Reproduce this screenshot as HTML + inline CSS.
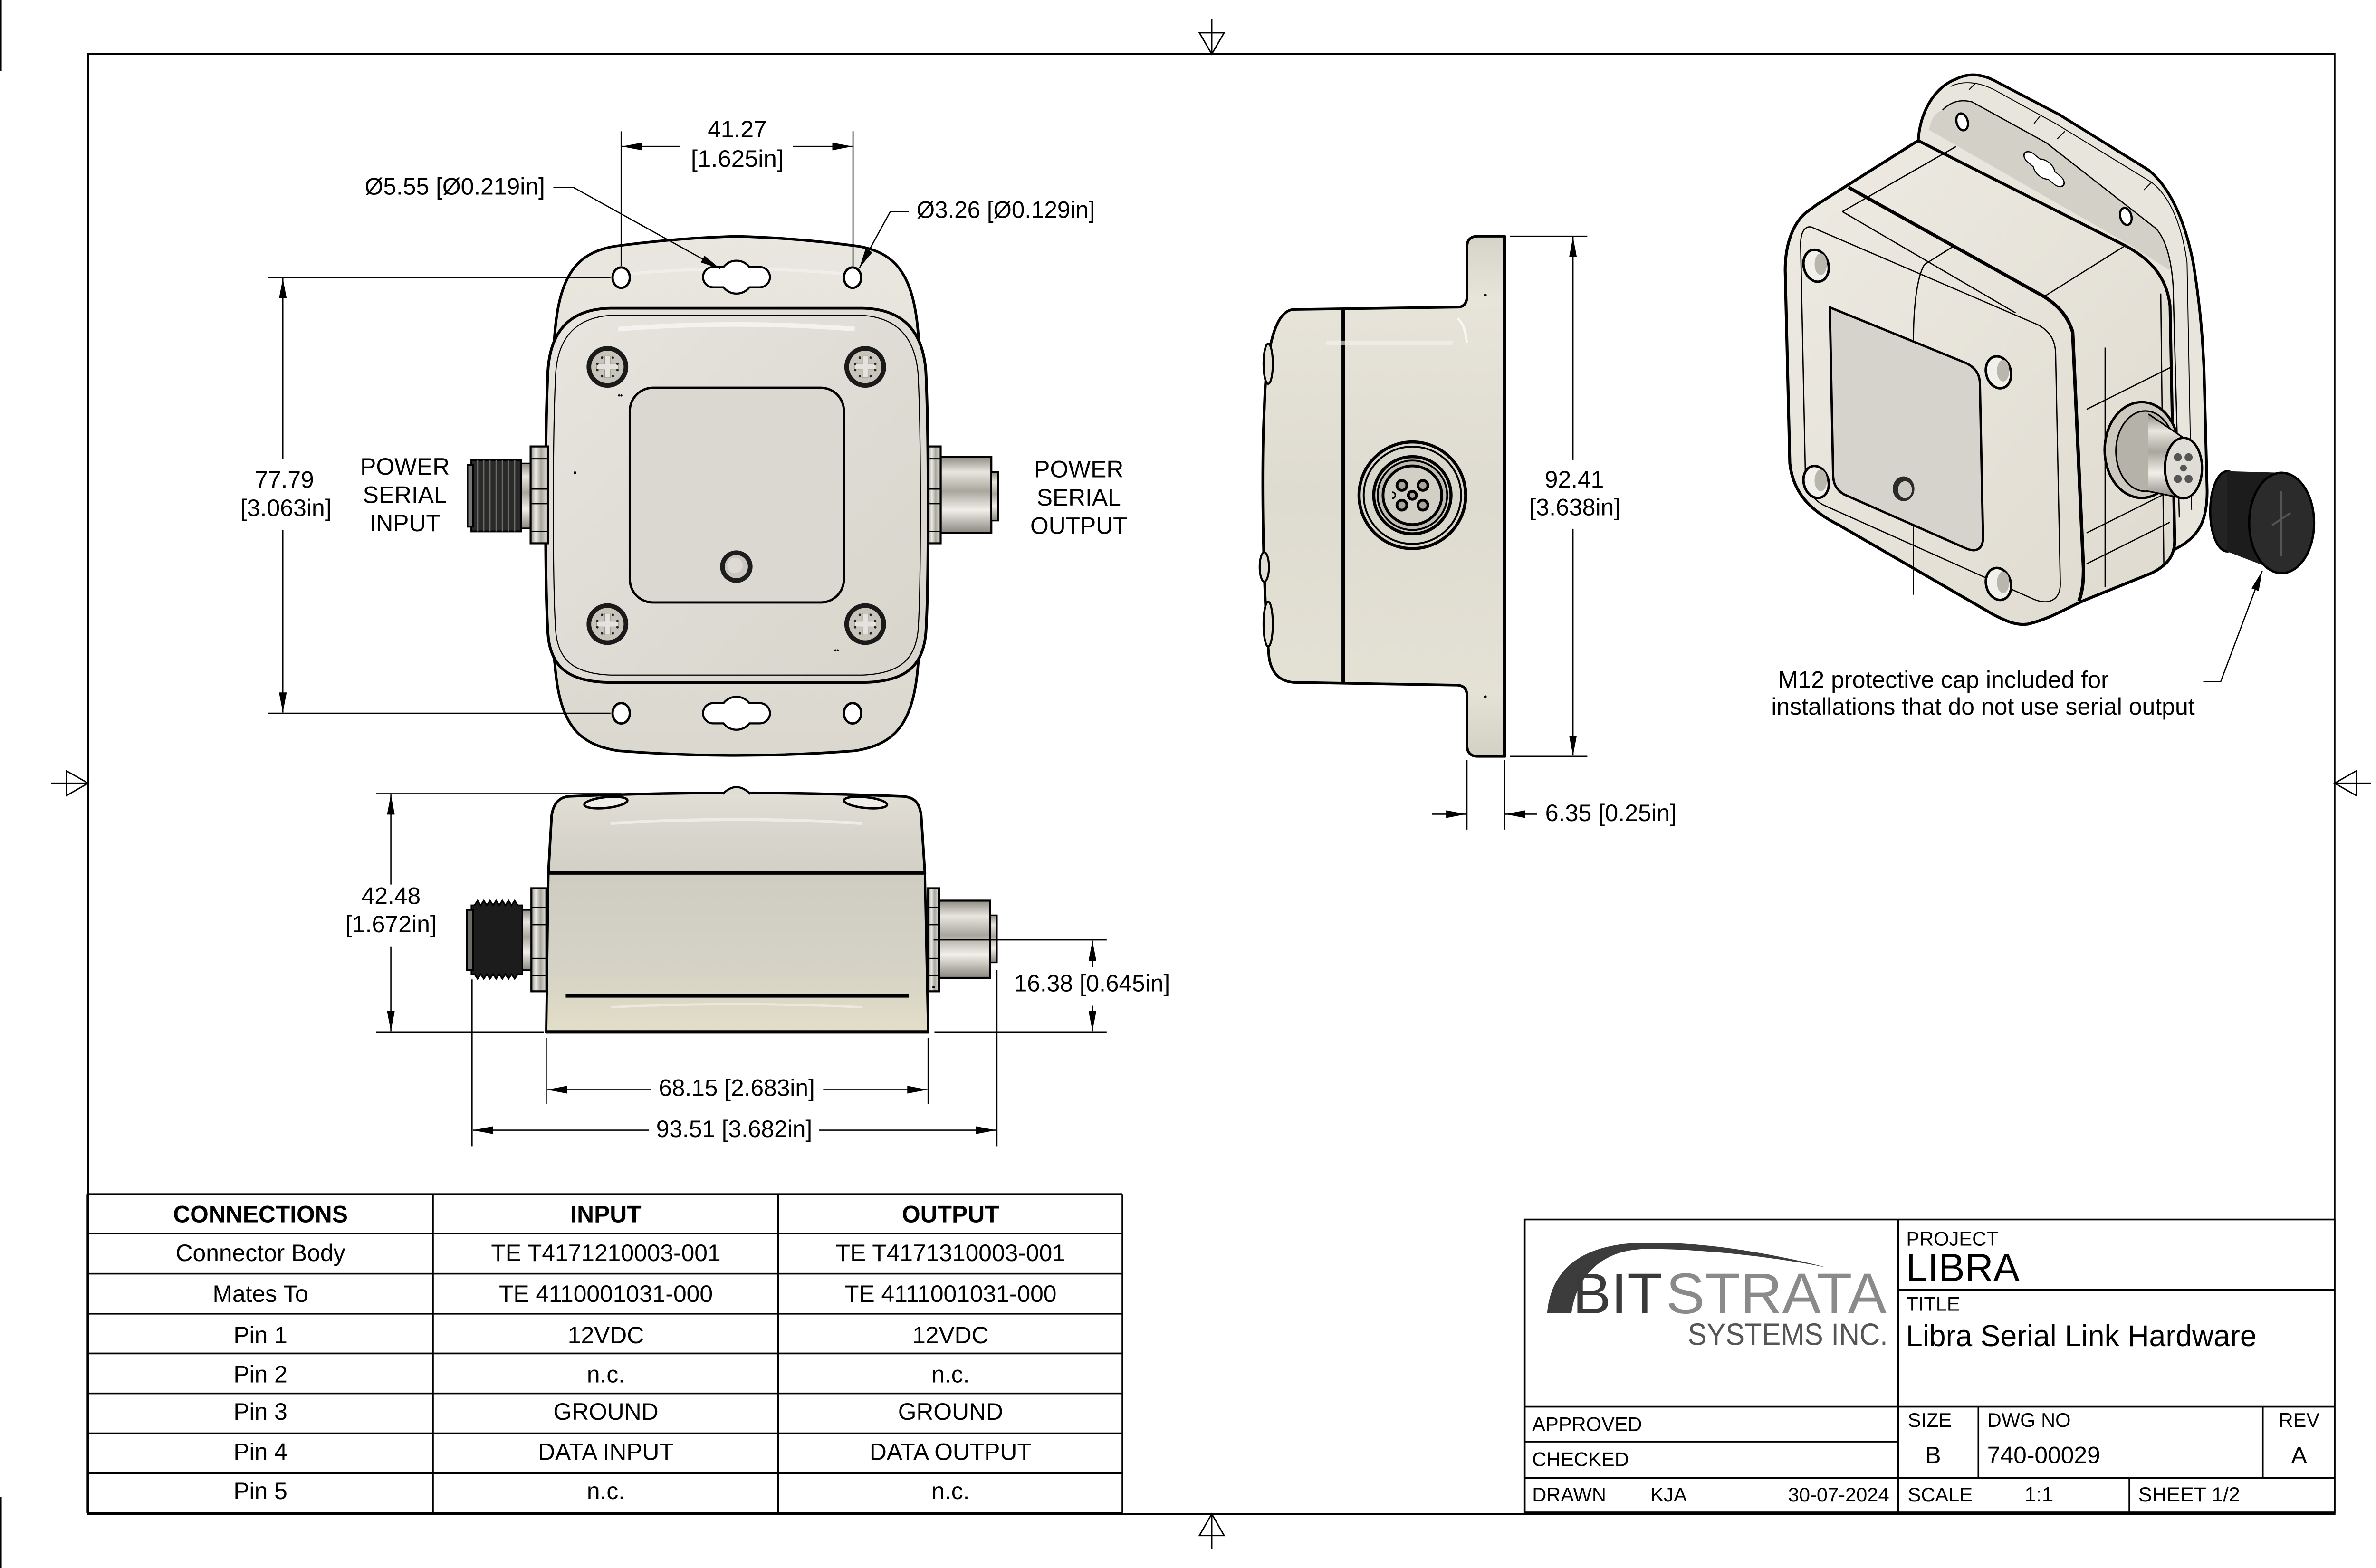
<!DOCTYPE html>
<html><head><meta charset="utf-8"><style>html,body{margin:0;padding:0;background:#fff}svg{display:block}</style></head>
<body>
<svg xmlns="http://www.w3.org/2000/svg" width="5100" height="3300" viewBox="0 0 1568 1015" preserveAspectRatio="none" font-family="'Liberation Sans', Arial, sans-serif">
<defs>
<linearGradient id="gFl" x1="0" y1="0" x2="0" y2="1"><stop offset="0" stop-color="#e9e7df"/><stop offset="0.5" stop-color="#e2dfd6"/><stop offset="1" stop-color="#dbd8cf"/></linearGradient>
<linearGradient id="gLid" x1="0" y1="0" x2="1" y2="1"><stop offset="0" stop-color="#e7e5dd"/><stop offset="0.5" stop-color="#dedcd4"/><stop offset="1" stop-color="#d8d5cc"/></linearGradient>
<linearGradient id="gMetV" x1="0" y1="0" x2="0" y2="1"><stop offset="0" stop-color="#8f8c84"/><stop offset="0.2" stop-color="#e8e6df"/><stop offset="0.45" stop-color="#a9a69d"/><stop offset="0.7" stop-color="#f1efe9"/><stop offset="1" stop-color="#8a877f"/></linearGradient>
<linearGradient id="gMetH" x1="0" y1="0" x2="1" y2="0"><stop offset="0" stop-color="#8f8c84"/><stop offset="0.3" stop-color="#ecebe5"/><stop offset="0.6" stop-color="#a8a59c"/><stop offset="1" stop-color="#e6e4dd"/></linearGradient>
<linearGradient id="gSide" x1="0" y1="0" x2="0" y2="1"><stop offset="0" stop-color="#d6d3c8"/><stop offset="0.12" stop-color="#e7e4da"/><stop offset="0.5" stop-color="#dedbd0"/><stop offset="0.88" stop-color="#e4e1d5"/><stop offset="1" stop-color="#d3d0c4"/></linearGradient>
<linearGradient id="gBotLid" x1="0" y1="0" x2="0" y2="1"><stop offset="0" stop-color="#e2dfd6"/><stop offset="0.4" stop-color="#dad7ce"/><stop offset="1" stop-color="#d3d0c6"/></linearGradient>
<linearGradient id="gBotBase" x1="0" y1="0" x2="0" y2="1"><stop offset="0" stop-color="#cfccc2"/><stop offset="0.6" stop-color="#d5d2c6"/><stop offset="1" stop-color="#e3dec7"/></linearGradient>
<linearGradient id="gIso" x1="0" y1="0" x2="1" y2="1"><stop offset="0" stop-color="#eeebe3"/><stop offset="1" stop-color="#dedacf"/></linearGradient>
<marker id="ah" viewBox="0 0 13 5" refX="13" refY="2.5" markerWidth="13" markerHeight="5" markerUnits="userSpaceOnUse" orient="auto"><path d="M0,0 L13,2.5 L0,5 Z" fill="#000"/></marker>
<g id="scr"><circle r="13.5" fill="#1a1a1a"/><circle r="10.5" fill="#c7c4bc"/><path d="M-1.8,-7 h3.6 v5.2 h5.2 v3.6 h-5.2 v5.2 h-3.6 v-5.2 h-5.2 v-3.6 h5.2 z" fill="#e4e2dc" stroke="#9a978f" stroke-width="0.4"/><g fill="#222"><circle cx="-3.5" cy="-6" r="0.8"/><circle cx="3.5" cy="-6" r="0.8"/><circle cx="-3.5" cy="6" r="0.8"/><circle cx="3.5" cy="6" r="0.8"/><circle cx="-6.5" cy="-2" r="0.8"/><circle cx="6.5" cy="-2" r="0.8"/><circle cx="-6.5" cy="2" r="0.8"/><circle cx="6.5" cy="2" r="0.8"/></g></g>
<g id="kh"><rect x="-21" y="-5.9" width="42" height="11.8" rx="5.9" fill="none" stroke="#000" stroke-width="2.6"/><circle r="10" fill="none" stroke="#000" stroke-width="2.6"/><rect x="-21" y="-5.9" width="42" height="11.8" rx="5.9" fill="#fff"/><circle r="10" fill="#fff"/></g>
</defs>

<!-- sheet edges & frame -->
<g stroke="#000" fill="none">
<line x1="0.6" y1="0" x2="0.6" y2="46" stroke-width="1"/>
<line x1="0.6" y1="969" x2="0.6" y2="1015" stroke-width="1"/>
<line x1="1566.5" y1="0" x2="1566.5" y2="46" stroke-width="1"/>
<line x1="1566.5" y1="969" x2="1566.5" y2="1015" stroke-width="1"/>
<rect x="57" y="35" width="1453.5" height="945" stroke-width="1.1"/>
<g stroke-width="0.9">
<line x1="784" y1="12" x2="784" y2="35"/><path d="M776 21.2 L792 21.2 L784 35 Z"/>
<line x1="784" y1="980" x2="784" y2="1003"/><path d="M776 994 L792 994 L784 980 Z"/>
<line x1="33" y1="507" x2="57" y2="507"/><path d="M43 499 L43 515 L57 507 Z"/>
<line x1="1510.5" y1="507" x2="1534" y2="507"/><path d="M1524.5 499 L1524.5 515 L1510.5 507 Z"/>
</g>
</g>

<!-- ================= TOP VIEW ================= -->
<path d="M476.5 153 Q437 154 397 159.5 C372 164 362 180 359 215 C355 260 355 400 359 430 C362 470 375 482 400 486 Q476.5 492 553 486 C578 482 591 470 594 430 C598 400 598 260 594 215 C591 180 581 164 556 159.5 Q516 154 476.5 153 Z" fill="url(#gFl)" stroke="#000" stroke-width="1.7"/>
<path d="M395 199.5 L558 199.5 C585 200 597 215 599 240 C601 280 601 380 599 410 C597 432 585 441 560 441.7 L393 441.7 C368 441 356 432 354.5 410 C352.5 380 352.5 280 354.5 240 C356 215 368 200 395 199.5 Z" fill="url(#gLid)" stroke="#000" stroke-width="1.8"/>
<path d="M397 204 L556 204 C580 205 592 218 594 242 C596 282 596 378 594 408 C592 428 581 436 558 437 L395 437 C372 436 361 428 359.5 408 C357.5 378 357.5 282 359.5 242 C361 218 373 205 397 204 Z" fill="none" stroke="#000" stroke-width="0.7"/>
<path d="M400 213 Q476 207 553 213" fill="none" stroke="#f7f6f2" stroke-width="3" opacity="0.8"/>
<path d="M400 178 Q476 170 553 178" fill="none" stroke="#f7f6f2" stroke-width="2" opacity="0.5"/>
<rect x="407.5" y="251" width="138.5" height="139" rx="15" fill="#dad8d1" stroke="#000" stroke-width="1.5"/>
<use href="#scr" x="393" y="237.5"/><use href="#scr" x="559.8" y="237.5"/><use href="#scr" x="393" y="404"/><use href="#scr" x="559.8" y="404"/>
<circle cx="476.4" cy="366.8" r="10.5" fill="#1d1d1d"/><circle cx="476.4" cy="366.8" r="7.5" fill="#c9c7bf"/><circle cx="475.5" cy="366" r="5" fill="#dcdad3"/>
<g fill="#000"><circle cx="372" cy="306" r="0.9"/><circle cx="400.5" cy="256" r="0.7"/><circle cx="402" cy="256" r="0.7"/><circle cx="540.5" cy="421" r="0.7"/><circle cx="542" cy="421" r="0.7"/></g>
<ellipse cx="401.9" cy="179.7" rx="5.6" ry="6.6" fill="#fff" stroke="#000" stroke-width="1.5"/>
<ellipse cx="551.6" cy="179.7" rx="5.6" ry="6.6" fill="#fff" stroke="#000" stroke-width="1.5"/>
<ellipse cx="401.9" cy="461.7" rx="5.6" ry="6.6" fill="#fff" stroke="#000" stroke-width="1.5"/>
<ellipse cx="551.6" cy="461.7" rx="5.6" ry="6.6" fill="#fff" stroke="#000" stroke-width="1.5"/>
<use href="#kh" x="476.5" y="179.4"/><use href="#kh" x="476.5" y="461.7"/>
<!-- left connector top view -->
<rect x="336" y="300" width="8" height="42" fill="url(#gMetV)" stroke="#000" stroke-width="1"/>
<rect x="305" y="298" width="32" height="46" fill="#2a2a2a" stroke="#000" stroke-width="1.2"/>
<g stroke="#6e6c66" stroke-width="0.8"><line x1="309" y1="298" x2="309" y2="344"/><line x1="313" y1="298" x2="313" y2="344"/><line x1="317" y1="298" x2="317" y2="344"/><line x1="321" y1="298" x2="321" y2="344"/><line x1="325" y1="298" x2="325" y2="344"/><line x1="329" y1="298" x2="329" y2="344"/><line x1="333" y1="298" x2="333" y2="344"/></g>
<rect x="302.5" y="301" width="3.5" height="40" fill="#777" stroke="#000" stroke-width="1"/>
<rect x="343.3" y="289" width="11.2" height="62.7" fill="url(#gMetH)" stroke="#000" stroke-width="1.3"/>
<g stroke="#000" stroke-width="0.9"><line x1="343.3" y1="297" x2="354.5" y2="297"/><line x1="343.3" y1="316.5" x2="354.5" y2="316.5"/><line x1="343.3" y1="326" x2="354.5" y2="326"/><line x1="343.3" y1="344" x2="354.5" y2="344"/></g>
<!-- right connector top view -->
<rect x="608.6" y="295.8" width="32.8" height="49.1" fill="url(#gMetV)" stroke="#000" stroke-width="1.3"/>
<rect x="641.4" y="305.6" width="4.4" height="31.4" fill="url(#gMetV)" stroke="#000" stroke-width="1"/>
<rect x="600.4" y="289" width="8.2" height="62.7" fill="url(#gMetH)" stroke="#000" stroke-width="1.3"/>
<g stroke="#000" stroke-width="0.9"><line x1="600.4" y1="297" x2="608.6" y2="297"/><line x1="600.4" y1="316.5" x2="608.6" y2="316.5"/><line x1="600.4" y1="326" x2="608.6" y2="326"/><line x1="600.4" y1="344" x2="608.6" y2="344"/></g>

<!-- top view dims -->
<g stroke="#000" stroke-width="0.8" fill="none">
<line x1="401.9" y1="85" x2="401.9" y2="172"/><line x1="551.9" y1="85" x2="551.9" y2="172"/>
<line x1="440" y1="94.8" x2="402.3" y2="94.8" marker-end="url(#ah)"/><line x1="513" y1="94.8" x2="551.5" y2="94.8" marker-end="url(#ah)"/>
<polyline points="358,121.3 371,121.3 466,174" marker-end="url(#ah)"/>
<polyline points="588,137 576,137 556,173.5" marker-end="url(#ah)"/>
<line x1="173.7" y1="179.7" x2="395" y2="179.7"/><line x1="173.7" y1="461.7" x2="395" y2="461.7"/>
<line x1="183" y1="297" x2="183" y2="180.2" marker-end="url(#ah)"/><line x1="183" y1="343" x2="183" y2="461.2" marker-end="url(#ah)"/>
</g>
<g font-size="15.3" fill="#000">
<text x="477" y="88.9" text-anchor="middle">41.27</text>
<text x="477" y="108" text-anchor="middle" textLength="60" lengthAdjust="spacingAndGlyphs">[1.625in]</text>
<text x="236" y="126" textLength="116.6" lengthAdjust="spacingAndGlyphs">Ø5.55 [Ø0.219in]</text>
<text x="593" y="141" textLength="115.5" lengthAdjust="spacingAndGlyphs">Ø3.26 [Ø0.129in]</text>
<text x="184" y="315.7" text-anchor="middle">77.79</text>
<text x="185" y="334" text-anchor="middle" textLength="59" lengthAdjust="spacingAndGlyphs">[3.063in]</text>
<text x="262" y="307.2" text-anchor="middle">POWER</text>
<text x="262" y="325.6" text-anchor="middle">SERIAL</text>
<text x="262" y="343.8" text-anchor="middle">INPUT</text>
<text x="698" y="309" text-anchor="middle">POWER</text>
<text x="698" y="327.3" text-anchor="middle">SERIAL</text>
<text x="698" y="345.6" text-anchor="middle">OUTPUT</text>
</g>

<!-- ================= SIDE VIEW (middle) ================= -->
<path d="M837 200.3 L944 198.8 Q949 198 949.1 192 L949.1 160 Q949.1 153 956 152.9 L973.3 152.9 L973.3 489.6 L956 489.6 Q949.1 489.6 949.1 482 L949.1 450 Q949 444 943 443.5 L837 441.7 C826 441 822 433 821 425 C817 380 816 300 818 265 C819 225 825 201 837 200.3 Z" fill="url(#gSide)" stroke="#000" stroke-width="1.7"/>
<line x1="973.3" y1="152.5" x2="973.3" y2="490" stroke="#000" stroke-width="2.2"/>
<line x1="869.1" y1="200" x2="869.1" y2="442.3" stroke="#000" stroke-width="2.3"/>
<path d="M943 206 Q948 210 949 222" fill="none" stroke="#fff" stroke-width="1.5" opacity="0.7"/>
<path d="M858 222 L940 222" stroke="#f4f3ee" stroke-width="3" opacity="0.6"/>
<g fill="#e2dfd4" stroke="#000" stroke-width="1.3">
<ellipse cx="820.5" cy="235.5" rx="3" ry="13"/><ellipse cx="818" cy="367" rx="3" ry="9.5"/><ellipse cx="820.5" cy="404" rx="3" ry="14.5"/>
</g>
<g fill="#000"><circle cx="961" cy="191" r="0.9"/><circle cx="961" cy="451" r="0.9"/></g>
<g transform="translate(913.8 320.6)" stroke="#000">
<circle r="34.5" fill="#d9d6cb" stroke-width="2"/>
<circle r="31.5" fill="none" stroke-width="1.2"/>
<circle r="25" fill="#cfccc2" stroke-width="2"/>
<circle r="22.5" fill="#bfbcb3" stroke-width="1.2"/>
<circle r="19" fill="#d2cfc6" stroke-width="1.8"/>
<g fill="#a9a69e" stroke-width="1.8"><circle cx="-6.8" cy="-6.4" r="3.2"/><circle cx="6.8" cy="-6.4" r="3.2"/><circle cx="-6.8" cy="6.4" r="3.2"/><circle cx="6.8" cy="6.4" r="3.2"/><circle cx="0" cy="0" r="2.6"/></g>
<path d="M-13 -2 A2 2 0 0 1 -13 2" fill="none" stroke-width="1"/>
</g>
<!-- side view dims -->
<g stroke="#000" stroke-width="0.8" fill="none">
<line x1="977" y1="152.9" x2="1027" y2="152.9"/><line x1="977" y1="489.6" x2="1027" y2="489.6"/>
<line x1="1017.7" y1="297.7" x2="1017.7" y2="153.4" marker-end="url(#ah)"/><line x1="1017.7" y1="342.3" x2="1017.7" y2="489.1" marker-end="url(#ah)"/>
<line x1="949.1" y1="492" x2="949.1" y2="537"/><line x1="973.3" y1="492" x2="973.3" y2="537"/>
<line x1="926.5" y1="527" x2="948.6" y2="527" marker-end="url(#ah)"/><line x1="994.4" y1="527" x2="973.8" y2="527" marker-end="url(#ah)"/>
</g>
<g font-size="15.3" fill="#000">
<text x="1018.6" y="315.5" text-anchor="middle">92.41</text>
<text x="1019" y="333.5" text-anchor="middle" textLength="59" lengthAdjust="spacingAndGlyphs">[3.638in]</text>
<text x="999.7" y="531.5" textLength="85" lengthAdjust="spacingAndGlyphs">6.35 [0.25in]</text>
</g>

<!-- ================= BOTTOM VIEW ================= -->
<path d="M354.8 565 L353.4 668 L600.5 668 L598.4 565 Z" fill="url(#gBotBase)" stroke="#000" stroke-width="1.5"/>
<path d="M354.8 565 L356.9 528 C358 520 362 516 368 515.5 Q476 511 584 515.5 C592 516 595 520 596 528 L598.4 565 Z" fill="url(#gBotLid)" stroke="#000" stroke-width="1.7"/>
<path d="M395 533 Q476 528 558 533" stroke="#f5f4ef" stroke-width="2" fill="none" opacity="0.7"/>
<path d="M395 652 Q476 648 558 652" stroke="#f5f4ef" stroke-width="1.5" fill="none" opacity="0.6"/>
<path d="M467.5 514 Q476.5 505 485.5 514" fill="#e0ddd4" stroke="#000" stroke-width="1.3"/>
<ellipse cx="392" cy="519.5" rx="14" ry="3.5" transform="rotate(-6 392 519.5)" fill="#efeee8" stroke="#000" stroke-width="1.5"/>
<ellipse cx="560" cy="519.5" rx="14" ry="3.5" transform="rotate(6 560 519.5)" fill="#efeee8" stroke="#000" stroke-width="1.5"/>
<line x1="354.8" y1="565" x2="598.4" y2="565" stroke="#000" stroke-width="2.4"/>
<line x1="366" y1="644.7" x2="588" y2="644.7" stroke="#000" stroke-width="2.2"/>
<line x1="353" y1="668" x2="601" y2="668" stroke="#000" stroke-width="2.2"/>
<!-- left connector bottom view -->
<rect x="338" y="589" width="6.5" height="39" fill="url(#gMetV)" stroke="#000" stroke-width="1"/>
<path d="M307 586 L309 583 L311 586 L313 583 L315 586 L317 583 L319 586 L321 583 L323 586 L325 583 L327 586 L329 583 L331 586 L333 583 L335 586 L338 586 L338 630.6 L335 630.6 L333 633.6 L331 630.6 L329 633.6 L327 630.6 L325 633.6 L323 630.6 L321 633.6 L319 630.6 L317 633.6 L315 630.6 L313 633.6 L311 630.6 L309 633.6 L307 630.6 L305 630.6 L305 586 Z" fill="#1c1c1c" stroke="#000" stroke-width="1"/>
<rect x="302" y="589" width="4" height="39" fill="#6d6b66" stroke="#000" stroke-width="1.1"/>
<rect x="343.8" y="575" width="9.7" height="66.7" fill="url(#gMetH)" stroke="#000" stroke-width="1.3"/>
<g stroke="#000" stroke-width="0.9"><line x1="343.8" y1="587.5" x2="353.5" y2="587.5"/><line x1="343.8" y1="598.5" x2="353.5" y2="598.5"/><line x1="343.8" y1="620.5" x2="353.5" y2="620.5"/><line x1="343.8" y1="631.5" x2="353.5" y2="631.5"/></g>
<!-- right connector bottom view -->
<rect x="607.5" y="583" width="33.1" height="50" fill="url(#gMetV)" stroke="#000" stroke-width="1.3"/>
<rect x="640.6" y="592.5" width="4.4" height="30.5" fill="url(#gMetV)" stroke="#000" stroke-width="1"/>
<rect x="600.5" y="575" width="7" height="66.7" fill="url(#gMetH)" stroke="#000" stroke-width="1.3"/>
<g stroke="#000" stroke-width="0.9"><line x1="600.5" y1="587.5" x2="607.5" y2="587.5"/><line x1="600.5" y1="598.5" x2="607.5" y2="598.5"/><line x1="600.5" y1="620.5" x2="607.5" y2="620.5"/><line x1="600.5" y1="631.5" x2="607.5" y2="631.5"/></g>
<circle cx="604" cy="639" r="0.8" fill="#000"/>
<!-- bottom view dims -->
<g stroke="#000" stroke-width="0.8" fill="none">
<line x1="243.5" y1="513.8" x2="402" y2="513.8"/><line x1="243.5" y1="668" x2="352" y2="668"/>
<line x1="252.9" y1="572.6" x2="252.9" y2="514.3" marker-end="url(#ah)"/><line x1="252.9" y1="612.6" x2="252.9" y2="667.5" marker-end="url(#ah)"/>
<line x1="604" y1="608.4" x2="716" y2="608.4"/><line x1="604.6" y1="668" x2="716" y2="668"/>
<line x1="706.8" y1="626" x2="706.8" y2="608.9" marker-end="url(#ah)"/><line x1="706.8" y1="651" x2="706.8" y2="667.5" marker-end="url(#ah)"/>
<line x1="353.4" y1="672" x2="353.4" y2="714.5"/><line x1="600.5" y1="672" x2="600.5" y2="714.5"/>
<line x1="421" y1="705.4" x2="353.9" y2="705.4" marker-end="url(#ah)"/><line x1="532.6" y1="705.4" x2="600" y2="705.4" marker-end="url(#ah)"/>
<line x1="305.4" y1="634" x2="305.4" y2="742"/><line x1="645" y1="628" x2="645" y2="742"/>
<line x1="420" y1="731.6" x2="305.9" y2="731.6" marker-end="url(#ah)"/><line x1="530" y1="731.6" x2="644.5" y2="731.6" marker-end="url(#ah)"/>
</g>
<g font-size="15.3" fill="#000">
<text x="253" y="585.2" text-anchor="middle">42.48</text>
<text x="253" y="603.5" text-anchor="middle" textLength="59" lengthAdjust="spacingAndGlyphs">[1.672in]</text>
<text x="656" y="641.7" textLength="101" lengthAdjust="spacingAndGlyphs">16.38 [0.645in]</text>
<text x="426.2" y="709.5" textLength="101" lengthAdjust="spacingAndGlyphs">68.15 [2.683in]</text>
<text x="424.5" y="736" textLength="101" lengthAdjust="spacingAndGlyphs">93.51 [3.682in]</text>
</g>

<!-- ================= ISOMETRIC ================= -->
<path d="M1241 92 C1242 72 1252 56 1266 51 C1274 47 1282 48 1290 52 L1332 74 L1390 110 C1405 122 1414 145 1419 170 C1423 195 1425 215 1426 240 L1428 318 C1428 338 1422 347 1410 354 L1368 377 L1300 300 Z" fill="#e8e5dc" stroke="#000" stroke-width="1.8"/>
<path d="M1248 84 C1250 76 1252 73 1256.8 71.3 C1262 66 1268 64 1276 66 L1324 92.5 L1395 148 C1400 154 1403 162 1404 175 L1377 158 Z" fill="#d3d0c7"/>
<path d="M1256.8 71.3 C1262 66 1268 64 1276 66 L1324 92.5 L1395 148 C1402 156 1405 170 1406 185 L1410 335" fill="none" stroke="#000" stroke-width="0.8"/>
<path d="M1262 56 C1270 52 1280 53 1290 58 L1330 80 L1392 118 C1405 128 1412 148 1415 170 L1418 330" fill="none" stroke="#000" stroke-width="0.6"/>
<g stroke="#000" stroke-width="0.6"><line x1="1278" y1="54" x2="1274" y2="58"/><line x1="1320" y1="75" x2="1316" y2="80"/><line x1="1336" y1="85" x2="1331" y2="90"/><line x1="1392" y1="118" x2="1387" y2="123"/></g>
<ellipse cx="1269.5" cy="78.9" rx="3.6" ry="5.6" transform="rotate(-15 1269.5 78.9)" fill="#fff" stroke="#000" stroke-width="1.4"/>
<ellipse cx="1375.4" cy="140.1" rx="3.6" ry="5.6" transform="rotate(-15 1375.4 140.1)" fill="#fff" stroke="#000" stroke-width="1.4"/>
<g transform="translate(1322.5 109.5) rotate(40) scale(0.75 0.5)"><use href="#kh"/></g>
<path d="M1241 91 L1375 159 C1392 168 1402 180 1404 198 L1407 350 C1407 360 1402 366 1392 371 L1350 388 C1338 393 1328 400 1312 404 C1304 405 1298 402 1290 398 L1190 340 C1170 330 1160 318 1158 300 L1155 175 C1155 158 1160 145 1168 138 L1175.4 132.5 Z" fill="url(#gIso)" stroke="#000" stroke-width="1.9"/>
<path d="M1172 147 L1318 210 C1326 214 1330 220 1330 230 L1333 378 C1333 388 1326 392 1316 388 L1180 327 C1172 323 1168 316 1168 305 L1165 158 C1165 150 1168 146 1172 147 Z" fill="none" stroke="#000" stroke-width="0.8"/>
<path d="M1196 121.3 L1322.5 192 C1332 198 1338 205 1341 215 L1348 368 C1348 378 1347 384 1345 389" fill="none" stroke="#000" stroke-width="2.2"/>
<g fill="none" stroke="#000" stroke-width="0.8">
<line x1="1375" y1="159" x2="1322.5" y2="192"/>
<line x1="1192" y1="137" x2="1265.6" y2="94.8"/>
<line x1="1192" y1="137" x2="1304" y2="202.5"/>
<line x1="1245" y1="171.3" x2="1263.6" y2="159.6"/>
<path d="M1245 171.3 C1240 180 1238 200 1238 220 L1238 385"/>
<line x1="1362" y1="225" x2="1362" y2="380"/>
<line x1="1398" y1="190" x2="1400" y2="365"/>
<line x1="1350" y1="265" x2="1404" y2="238"/>
<line x1="1350" y1="345" x2="1404" y2="318"/>
<line x1="1350" y1="365" x2="1404" y2="338"/>
</g>
<path d="M1184 199 L1272 235 C1278 238 1281 242 1281 249 L1283 348 C1283 355 1279 358 1272 355 L1193 320 C1188 317 1186 313 1186 307 L1184 205 C1184 200 1184 199 1184 199 Z" fill="#d5d3cc" stroke="#000" stroke-width="1.5"/>
<ellipse cx="1231.6" cy="316.4" rx="7" ry="8" fill="#2a2a2a"/><ellipse cx="1232.5" cy="317" rx="4.5" ry="5.5" fill="#cdcac2"/>
<g fill="#f1f0eb" stroke="#000" stroke-width="1.6">
<ellipse cx="1175" cy="172" rx="8" ry="10.5" transform="rotate(-15 1175 172)"/>
<ellipse cx="1293" cy="241" rx="8" ry="10.5" transform="rotate(-15 1293 241)"/>
<ellipse cx="1175" cy="312" rx="8" ry="10.5" transform="rotate(-15 1175 312)"/>
<ellipse cx="1293" cy="378" rx="8" ry="10.5" transform="rotate(-15 1293 378)"/>
</g>
<g fill="#b9b6ad"><ellipse cx="1178" cy="171" rx="4" ry="7"/><ellipse cx="1296" cy="240" rx="4" ry="7"/><ellipse cx="1178" cy="311" rx="4" ry="7"/><ellipse cx="1296" cy="377" rx="4" ry="7"/></g>
<!-- iso connector -->
<ellipse cx="1385.7" cy="291.3" rx="24" ry="31" fill="#cdc9bf" stroke="#000" stroke-width="1.6"/>
<ellipse cx="1388" cy="292" rx="19" ry="26" fill="#b5b2aa" stroke="#000" stroke-width="1"/>
<path d="M1390 268 L1412.7 283.4 L1412.7 322.6 L1390 318 Z" fill="url(#gMetV)"/>
<line x1="1390" y1="268" x2="1412.7" y2="283.4" stroke="#000" stroke-width="1"/>
<line x1="1390" y1="318" x2="1412.7" y2="322.6" stroke="#000" stroke-width="1"/>
<ellipse cx="1412.7" cy="303" rx="12" ry="19.6" fill="#dfddd6" stroke="#000" stroke-width="1.5"/>
<g fill="#555"><circle cx="1409" cy="296" r="2.6"/><circle cx="1416" cy="296" r="2.6"/><circle cx="1409" cy="310" r="2.6"/><circle cx="1416" cy="310" r="2.6"/><circle cx="1412.7" cy="303" r="2.2"/></g>
<!-- cap -->
<ellipse cx="1441" cy="331" rx="11" ry="26" fill="#232323" stroke="#000" stroke-width="1.4"/>
<path d="M1441 305 L1476 306 L1476 370.5 L1441 357 Z" fill="#1c1c1c"/>
<ellipse cx="1476.2" cy="338.5" rx="21" ry="32.5" fill="#2b2b2b" stroke="#000" stroke-width="1.5"/>
<path d="M1476 318 L1476 360 M1470 340 L1482 332" stroke="#555" stroke-width="1.2" fill="none"/>
<!-- leader -->
<polyline points="1425.5,441.2 1436.8,441.2 1463.6,369.6" fill="none" stroke="#000" stroke-width="0.8" marker-end="url(#ah)"/>
<g font-size="15.3" fill="#000">
<text x="1150.4" y="445.2" textLength="214" lengthAdjust="spacingAndGlyphs">M12 protective cap included for</text>
<text x="1146" y="462.6" textLength="274" lengthAdjust="spacingAndGlyphs">installations that do not use serial output</text>
</g>

<!-- ================= CONNECTIONS TABLE ================= -->
<g stroke="#000" stroke-width="1.1">
<line x1="56.6" y1="773" x2="726.2" y2="773"/><line x1="56.6" y1="798.4" x2="726.2" y2="798.4"/>
<line x1="56.6" y1="824.5" x2="726.2" y2="824.5"/><line x1="56.6" y1="850.4" x2="726.2" y2="850.4"/>
<line x1="56.6" y1="876.1" x2="726.2" y2="876.1"/><line x1="56.6" y1="902" x2="726.2" y2="902"/>
<line x1="56.6" y1="927.8" x2="726.2" y2="927.8"/><line x1="56.6" y1="953.6" x2="726.2" y2="953.6"/>
<line x1="56.6" y1="979.3" x2="726.2" y2="979.3"/>
<line x1="56.6" y1="773" x2="56.6" y2="979.3"/><line x1="280.1" y1="773" x2="280.1" y2="979.3"/>
<line x1="503.5" y1="773" x2="503.5" y2="979.3"/><line x1="726.2" y1="773" x2="726.2" y2="979.3"/>
</g>
<g font-size="15.3" fill="#000" text-anchor="middle">
<text x="168.5" y="791.3" font-weight="bold">CONNECTIONS</text><text x="392" y="791.3" font-weight="bold">INPUT</text><text x="615" y="791.3" font-weight="bold">OUTPUT</text>
<text x="168.5" y="816.3">Connector Body</text><text x="392" y="816.3">TE T4171210003-001</text><text x="615" y="816.3">TE T4171310003-001</text>
<text x="168.5" y="842.7">Mates To</text><text x="392" y="842.7">TE 4110001031-000</text><text x="615" y="842.7">TE 4111001031-000</text>
<text x="168.5" y="869.5">Pin 1</text><text x="392" y="869.5">12VDC</text><text x="615" y="869.5">12VDC</text>
<text x="168.5" y="894.9">Pin 2</text><text x="392" y="894.9">n.c.</text><text x="615" y="894.9">n.c.</text>
<text x="168.5" y="919">Pin 3</text><text x="392" y="919">GROUND</text><text x="615" y="919">GROUND</text>
<text x="168.5" y="945">Pin 4</text><text x="392" y="945">DATA INPUT</text><text x="615" y="945">DATA OUTPUT</text>
<text x="168.5" y="970.4">Pin 5</text><text x="392" y="970.4">n.c.</text><text x="615" y="970.4">n.c.</text>
</g>

<!-- ================= TITLE BLOCK ================= -->
<g stroke="#000" stroke-width="1.1" fill="none">
<rect x="986.5" y="789.4" width="524" height="189.6"/>
<line x1="1228.1" y1="789.4" x2="1228.1" y2="979"/>
<line x1="1228.1" y1="835" x2="1510.5" y2="835"/>
<line x1="986.5" y1="910.6" x2="1510.5" y2="910.6"/>
<line x1="986.5" y1="933.2" x2="1228.1" y2="933.2"/>
<line x1="986.5" y1="956.8" x2="1510.5" y2="956.8"/>
<line x1="1280" y1="910.6" x2="1280" y2="956.8"/>
<line x1="1464" y1="910.6" x2="1464" y2="956.8"/>
<line x1="1377.7" y1="956.8" x2="1377.7" y2="979"/>
</g>
<!-- logo -->
<path d="M1001 850.1 C1003 826 1018 806 1060.6 804.5 C1100 803 1150 812 1181.4 820.4 C1150 814 1100 808 1062 808.6 C1036 810 1020 826 1016.7 850.1 Z" fill="#3c3c3c"/>
<text x="1017.5" y="850.1" font-size="37" fill="#3a3a3a" textLength="58" lengthAdjust="spacingAndGlyphs">BIT</text>
<text x="1077.9" y="850.1" font-size="37" fill="#8a8a8a" textLength="142.7" lengthAdjust="spacingAndGlyphs">STRATA</text>
<text x="1092" y="870.6" font-size="20" fill="#555" textLength="129.4" lengthAdjust="spacingAndGlyphs">SYSTEMS INC.</text>
<g fill="#000">
<text x="1233.3" y="806.3" font-size="12.8">PROJECT</text>
<text x="1233" y="829.3" font-size="25.5">LIBRA</text>
<text x="1233.3" y="848.4" font-size="12.8">TITLE</text>
<text x="1233.2" y="871.3" font-size="19.3" textLength="226.8" lengthAdjust="spacingAndGlyphs">Libra Serial Link Hardware</text>
<text x="991.3" y="926.2" font-size="12.8">APPROVED</text>
<text x="991.3" y="949.1" font-size="12.8">CHECKED</text>
<text x="1234.3" y="923.6" font-size="12.8">SIZE</text>
<text x="1285.7" y="923.6" font-size="12.8">DWG NO</text>
<text x="1474.4" y="923.6" font-size="12.8">REV</text>
<text x="1250.7" y="947.2" font-size="15.3" text-anchor="middle">B</text>
<text x="1285.7" y="947.2" font-size="15.3">740-00029</text>
<text x="1487.5" y="947.2" font-size="15.3" text-anchor="middle">A</text>
<text x="991.3" y="972" font-size="12.8">DRAWN</text>
<text x="1067.9" y="972" font-size="12.8">KJA</text>
<text x="1222.3" y="972" font-size="12.8" text-anchor="end">30-07-2024</text>
<text x="1234.3" y="972" font-size="12.8">SCALE</text>
<text x="1319.2" y="972" font-size="13.5" text-anchor="middle">1:1</text>
<text x="1383.5" y="972" font-size="13.2">SHEET 1/2</text>
</g>
</svg>
</body></html>
